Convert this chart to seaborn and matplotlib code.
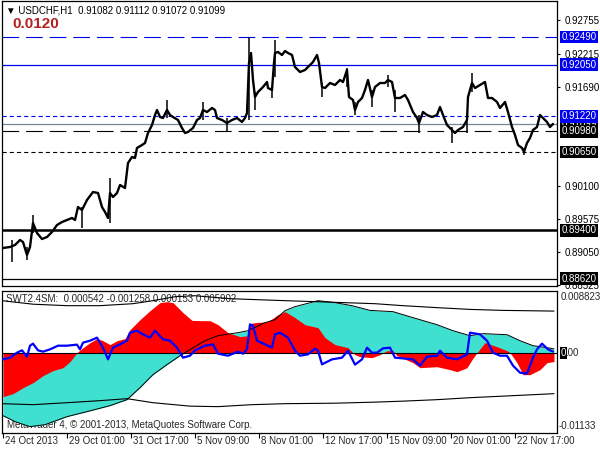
import matplotlib
matplotlib.use("Agg")
import matplotlib.pyplot as plt
import seaborn as sns

# ---- price panel (USDCHF H1), bar positions and closes ----
price_bars = [3, 10, 15, 20, 23, 27, 30, 33, 37, 42,
              47, 52, 57, 62, 67, 72, 75, 78, 82, 87,
              93, 98, 102, 105, 108, 110, 113, 117, 120, 125,
              128, 132, 135, 137, 142, 145, 148, 152, 155, 157,
              160, 163, 167, 170, 173, 178, 182, 185, 188, 193,
              197, 200, 203, 207, 212, 215, 217, 222, 227, 232,
              237, 242, 245, 247, 249, 251, 253, 255, 258, 263,
              267, 268, 272, 274, 275, 278, 282, 285, 288, 292,
              295, 298, 300, 305, 310, 313, 317, 319, 322, 325,
              330, 335, 340, 343, 347, 349, 353, 355, 358, 362,
              365, 368, 372, 375, 380, 385, 388, 392, 395, 400,
              405, 408, 413, 417, 419, 423, 427, 432, 437, 440,
              443, 447, 452, 455, 458, 463, 467, 468, 472, 475,
              480, 485, 488, 492, 497, 500, 505, 508, 512, 515,
              518, 522, 524, 527, 530, 533, 537, 540, 543, 547,
              550, 553]
price_close = [0.89114, 0.89130, 0.89162, 0.89242, 0.89210, 0.89002, 0.89130, 0.89514, 0.89354, 0.89258,
               0.89290, 0.89370, 0.89482, 0.89530, 0.89562, 0.89594, 0.89562, 0.89770, 0.89722, 0.89882,
               0.90010, 0.89994, 0.89770, 0.89690, 0.89594, 0.89994, 0.89930, 0.89994, 0.90122, 0.90074,
               0.90474, 0.90570, 0.90554, 0.90714, 0.90762, 0.90794, 0.90954, 0.91082, 0.91242, 0.91322,
               0.91210, 0.91194, 0.91322, 0.91242, 0.91210, 0.91162, 0.91034, 0.90954, 0.90970, 0.91034,
               0.91162, 0.91194, 0.91322, 0.91290, 0.91354, 0.91322, 0.91194, 0.91162, 0.91114, 0.91162,
               0.91194, 0.91130, 0.91194, 0.91274, 0.92074, 0.92234, 0.91802, 0.91530, 0.91610, 0.91690,
               0.91770, 0.91674, 0.91642, 0.92074, 0.92234, 0.92250, 0.92202, 0.92266, 0.92234, 0.92202,
               0.92010, 0.91962, 0.91930, 0.91962, 0.92042, 0.92090, 0.92202, 0.92074, 0.91690, 0.91674,
               0.91754, 0.91722, 0.91802, 0.91770, 0.91962, 0.91530, 0.91482, 0.91322, 0.91450, 0.91514,
               0.91642, 0.91802, 0.91530, 0.91690, 0.91754, 0.91754, 0.91802, 0.91770, 0.91514, 0.91514,
               0.91562, 0.91482, 0.91290, 0.91194, 0.91114, 0.91290, 0.91242, 0.91210, 0.91242, 0.91370,
               0.91242, 0.91082, 0.91002, 0.90954, 0.91002, 0.91050, 0.91162, 0.91530, 0.91754, 0.91674,
               0.91722, 0.91770, 0.91514, 0.91514, 0.91450, 0.91354, 0.91450, 0.91290, 0.91050, 0.90922,
               0.90762, 0.90714, 0.90650, 0.90794, 0.90874, 0.91002, 0.91050, 0.91242, 0.91194, 0.91130,
               0.91050, 0.91099]

# long wicks that stick out of the price line
wick_bars = [12, 27, 33, 82, 110, 167, 203, 227, 249, 255, 272, 275,
             322, 347, 355, 372, 388, 395, 419, 452, 467, 472, 524]
wick_high = [0.89242, 0.89130, 0.89642, 0.89770, 0.90234, 0.91482, 0.91450, 0.91194, 0.92490, 0.91610, 0.91690, 0.92442,
             0.91754, 0.91994, 0.91450, 0.91642, 0.91882, 0.91642, 0.91242, 0.91050, 0.91242, 0.91914, 0.90714]
wick_low = [0.88895, 0.88922, 0.89354, 0.89434, 0.89514, 0.91194, 0.91162, 0.90970, 0.91162, 0.91322, 0.91514, 0.91850,
            0.91530, 0.91690, 0.91242, 0.91370, 0.91690, 0.91290, 0.90954, 0.90794, 0.90954, 0.91610, 0.90602]

# horizontal levels drawn on the chart
level_values = [0.92490, 0.92050, 0.91220, 0.91099, 0.90980, 0.90650, 0.89400, 0.88620]
level_kinds = ["blue_dash", "blue", "blue_dot", "current", "black_dash", "black_dot", "black_thick", "black"]

price_ticks = [0.92755, 0.92215, 0.91690, 0.90100, 0.89575, 0.89050, 0.88525]

# ---- SWT2.4SM sub window ----
turq_bars = [3, 15, 30, 45, 67, 87, 110, 127, 140, 153, 167, 180, 190, 205, 218, 238, 248,
             265, 275, 285, 295, 318, 335, 352, 370, 393, 413, 437, 453, 470, 483, 507, 520, 533, 547, 554]
turq_vals = [-0.00894, -0.00979, -0.01050, -0.01022, -0.00908, -0.00837, -0.00752, -0.00667, -0.00497,
             -0.00312, -0.00170, -0.00043, 0.00043, 0.00170, 0.00241, 0.00284, 0.00312, 0.00426, 0.00468,
             0.00596, 0.00653, 0.00738, 0.00710, 0.00667, 0.00600, 0.00582, 0.00497, 0.00397, 0.00312,
             0.00241, 0.00270, 0.00255, 0.00170, 0.00099, 0.00071, 0.000542]

red_bars = [3, 13, 23, 33, 43, 53, 63, 70, 77, 83, 90, 97, 103, 110, 117, 125, 130, 140, 150, 160,
            167, 173, 183, 192, 202, 210, 218, 228, 240, 248, 250, 255, 268, 278, 285, 295, 305, 318,
            325, 335, 348, 355, 360, 372, 380, 387, 393, 397, 413, 420, 437, 450, 457, 467, 472, 477,
            485, 497, 507, 510, 517, 523, 530, 540, 547, 554]
red_vals = [-0.00624, -0.00582, -0.00497, -0.00426, -0.00326, -0.00255, -0.00213, -0.00128, 0.0, 0.00071,
            0.00142, 0.00199, 0.00170, 0.00114, 0.00170, 0.00199, 0.00326, 0.00468, 0.00596, 0.00710,
            0.00724, 0.00710, 0.00568, 0.00458, 0.00454, 0.00454, 0.00397, 0.00284, 0.00227, 0.00241,
            0.00412, 0.00426, 0.00440, 0.00539, 0.00582, 0.00497, 0.00397, 0.00355, 0.00213, 0.00114,
            0.00071, -0.00028, -0.00057, -0.00071, -0.00028, 0.00028, 0.00028, -0.00043, -0.00142, -0.00213,
            -0.00199, -0.00241, -0.00270, -0.00213, -0.00099, 0.0, 0.00142, 0.00085, 0.00028, 0.0,
            -0.00142, -0.00312, -0.00312, -0.00241, -0.00142, -0.001258]

blue_bars = [3, 10, 17, 22, 27, 30, 33, 38, 43, 50, 58, 67, 77, 80, 83, 90, 97, 103, 108, 113,
             120, 127, 130, 137, 143, 150, 155, 163, 170, 177, 183, 190, 195, 205, 213, 218, 228, 238,
             243, 247, 250, 253, 257, 265, 272, 275, 280, 288, 295, 300, 308, 315, 318, 322, 332, 342,
             348, 355, 362, 367, 372, 377, 383, 390, 395, 403, 413, 420, 427, 437, 440, 447, 457, 467,
             470, 480, 487, 493, 500, 507, 513, 520, 527, 533, 537, 542, 548, 553]
blue_vals = [-0.00095, -0.00071, 0.0, 0.00033, -0.00057, 0.00099, 0.00128, 0.00033, 0.00014, 0.00047,
             0.00099, 0.00099, 0.00114, 0.00047, 0.00142, 0.00170, 0.00213, 0.00071, -0.00095, 0.00071,
             0.00118, 0.00170, 0.00284, 0.00312, 0.00260, 0.00213, 0.00312, 0.00189, 0.00170, 0.00071,
             -0.00071, -0.00043, 0.00033, 0.00099, 0.00118, -0.00014, -0.00043, 0.00014, -0.00014, 0.00047,
             0.00402, 0.00383, 0.00170, 0.00118, 0.00071, 0.00260, 0.00284, 0.00213, 0.00028, -0.00043,
             -0.00024, 0.00057, 0.00028, -0.00166, -0.00095, -0.00071, 0.00028, -0.00170, -0.00095, 0.00071,
             0.0, 0.0, 0.00061, 0.00071, -0.00071, -0.00081, -0.00095, -0.00184, -0.00057, -0.00043,
             0.00028, -0.00071, -0.00095, -0.00024, 0.00284, 0.00260, 0.00170, 0.0, -0.00043, -0.00043,
             -0.00184, -0.00284, -0.00298, -0.00071, 0.00047, 0.00128, 0.00047, 0.000153]

upper_bars = [2, 33, 67, 100, 133, 153, 175, 195, 230, 285, 330, 375, 403, 437, 470, 503, 554]
upper_vals = [0.00738, 0.00688, 0.00667, 0.00667, 0.00695, 0.00738, 0.00794, 0.00808, 0.00766, 0.00738,
              0.00717, 0.00695, 0.00667, 0.00639, 0.00614, 0.00600, 0.005902]
lower_bars = [2, 33, 67, 100, 127, 153, 190, 218, 252, 285, 335, 375, 403, 437, 470, 503, 554]
lower_vals = [-0.00724, -0.00738, -0.00710, -0.00681, -0.00653, -0.00710, -0.00759, -0.00766, -0.00738,
              -0.00724, -0.00717, -0.00702, -0.00688, -0.00667, -0.00639, -0.00617, -0.00582]

time_tick_bars = [3, 67, 131, 195, 259, 323, 387, 451, 515]
time_tick_labels = ["24 Oct 2013", "29 Oct 01:00", "31 Oct 17:00", "5 Nov 09:00", "8 Nov 01:00",
                    "12 Nov 17:00", "15 Nov 09:00", "20 Nov 01:00", "22 Nov 17:00"]

sns.set_style("white")
plt.rcParams["font.family"] = ["Liberation Sans", "DejaVu Sans"]
plt.rcParams["lines.scale_dashes"] = False

W, H = 600, 450
fig = plt.figure(figsize=(W / 100, H / 100), dpi=100)
fig.patch.set_facecolor("white")


def rect(left, top, right, bottom):
    return [left / W, 1 - bottom / H, (right - left) / W, (bottom - top) / H]


def fxy(x, y):
    return x / W, 1 - y / H


ax1 = fig.add_axes(rect(2, 1, 556.5, 286))
ax2 = fig.add_axes(rect(2, 290.5, 556.5, 432.5))
for ax in (ax1, ax2):
    ax.set_facecolor("white")
    ax.set_xlim(2, 556.5)
    for sp in ax.spines.values():
        sp.set_color("black")
        sp.set_linewidth(0.9)

ax1.set_ylim(0.88506, 0.93066)
ax2.set_ylim(-0.01133, 0.008823)

styles = {
    "blue_dash": dict(color="#0000ee", lw=0.8, ls=(0, (12, 5))),
    "blue": dict(color="#0000ee", lw=0.9, ls="-"),
    "blue_dot": dict(color="#0000ee", lw=0.8, ls=(0, (3, 2.2))),
    "current": dict(color="#778899", lw=0.9, ls="-"),
    "black_dash": dict(color="black", lw=0.8, ls=(0, (12, 5))),
    "black_dot": dict(color="black", lw=0.8, ls=(0, (3, 2.2))),
    "black_thick": dict(color="black", lw=1.8, ls="-"),
    "black": dict(color="black", lw=0.9, ls="-"),
}
for val, kind in zip(level_values, level_kinds):
    ax1.axhline(val, zorder=1, **styles[kind])

ax1.vlines(wick_bars, wick_low, wick_high, color="black", lw=1.1, zorder=3)
sns.lineplot(x=price_bars, y=price_close, ax=ax1, color="black", linewidth=1.7, zorder=3)

ax1.set_xticks([])
ax1.yaxis.tick_right()
ax1.set_yticks(price_ticks)
ax1.set_yticklabels([f"{v:.5f}" for v in price_ticks])
ax1.tick_params(axis="y", direction="out", length=2.5, width=0.8, pad=3, labelsize=7,
                right=True, left=False, colors="black")
ax1.set_xlabel("")
ax1.set_ylabel("")

# boxed level labels on the price scale
box_order = [0, 1, 3, 4, 2, 5, 6, 7]
for i in box_order:
    val = level_values[i]
    bg = "#0000ee" if level_kinds[i].startswith("blue") else "black"
    ax1.annotate(f"{val:.5f}", xy=(1.0, val), xycoords=("axes fraction", "data"),
                 xytext=(5, 0), textcoords="offset pixels", ha="left", va="center",
                 fontsize=7, color="white", annotation_clip=False,
                 bbox=dict(boxstyle="square,pad=0.15", facecolor=bg, edgecolor="none"))

fig.text(*fxy(6, 10.5), "\u25bc USDCHF,H1  0.91082 0.91112 0.91072 0.91099",
         fontsize=7, va="center", ha="left", color="black")
fig.text(*fxy(12, 24), "0.0120", fontsize=11, fontweight="bold", va="center", ha="left",
         color="#b22222")

# sub window
ax2.text(*fxy(6, 299.5), "SWT2.4SM:  0.000542 -0.001258 0.000153 0.005902",
         transform=fig.transFigure, fontsize=7, va="center", ha="left", zorder=0.5)
ax2.text(*fxy(7, 424.5), "MetaTrader 4, \u00a9 2001-2013, MetaQuotes Software Corp.",
         transform=fig.transFigure, fontsize=7, va="center", ha="left", zorder=0.5)

ax2.fill_between(turq_bars, 0, turq_vals, color="#40e0d0", lw=0, zorder=1)
ax2.fill_between(red_bars, 0, red_vals, color="#ff0000", lw=0, zorder=1.2)
sns.lineplot(x=turq_bars, y=turq_vals, ax=ax2, color="black", linewidth=0.7, zorder=2)
sns.lineplot(x=upper_bars, y=upper_vals, ax=ax2, color="black", linewidth=0.8, zorder=2)
sns.lineplot(x=lower_bars, y=lower_vals, ax=ax2, color="black", linewidth=0.8, zorder=2)
ax2.axhline(0, color="black", lw=0.8, zorder=2.2)
sns.lineplot(x=blue_bars, y=blue_vals, ax=ax2, color="#0000ff", linewidth=1.6, zorder=3)
ax2.set_xlabel("")
ax2.set_ylabel("")
ax2.set_yticks([])

ax2.set_xticks(time_tick_bars)
ax2.set_xticklabels([])
ax2.tick_params(axis="x", direction="out", length=3.5, width=0.8, bottom=True, colors="black")
for pos, lbl in zip(time_tick_bars, time_tick_labels):
    ax2.annotate(lbl, xy=(pos, 0), xycoords=("data", "axes fraction"), xytext=(2, -4),
                 textcoords="offset pixels", ha="left", va="top", fontsize=7,
                 annotation_clip=False)

fig.text(*fxy(561, 296.5), "0.008823", fontsize=7, va="center", ha="left")
fig.text(*fxy(559, 426), "-0.01133", fontsize=7, va="center", ha="left")
fig.text(*fxy(561, 353), "0", fontsize=7, va="center", ha="left", color="white",
         bbox=dict(boxstyle="square,pad=0.1", facecolor="black", edgecolor="none"))
fig.text(*fxy(565.5, 353), ".00", fontsize=7, va="center", ha="left")

fig.savefig("out.png", dpi=100, facecolor="white")
